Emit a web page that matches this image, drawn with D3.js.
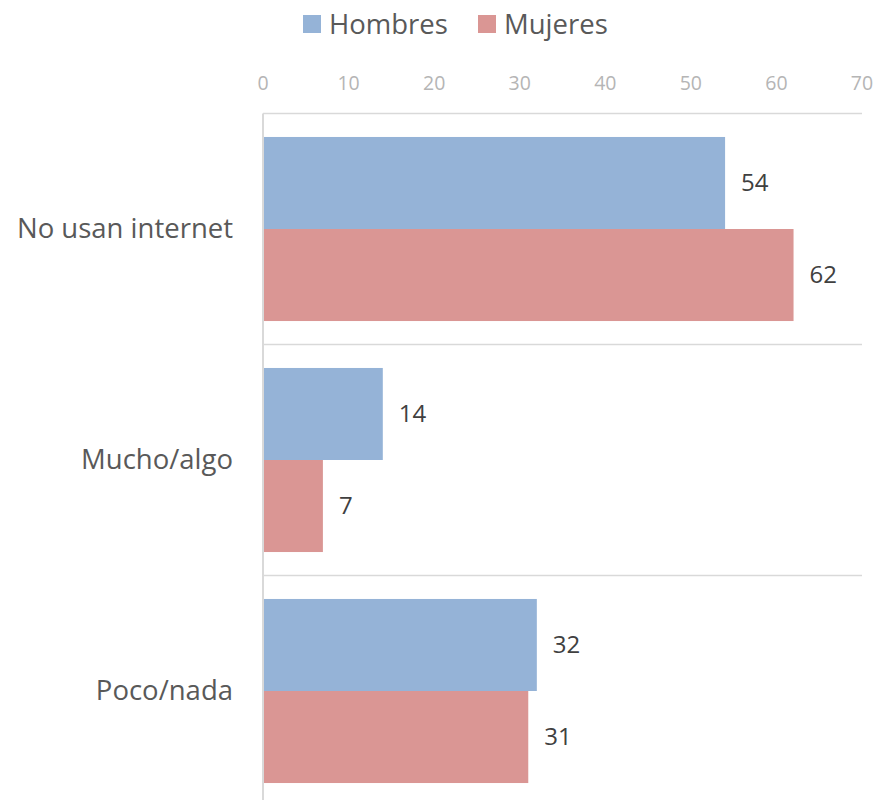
<html lang="es">
<head>
<meta charset="utf-8">
<script src="https://d3js.org/d3.v7.min.js"></script>
<style>
  body { margin: 0; background: #fff; font-family: "Open Sans", sans-serif; }
</style>
</head>
<body>
<div class="main"></div>
<script>
var categories = ["No usan internet", "Mucho/algo", "Poco/nada"]
var series = ["Hombres", "Mujeres"]
var hombres = [54, 14, 32]
var mujeres = [62, 7, 31]
var ticks = [0, 10, 20, 30, 40, 50, 60, 70]
var colors = ["#95b3d7", "#da9694"]

var width = 879, height = 800
var svg = d3.select(".main").append("svg")
  .attr("width", width).attr("height", height)

var x = d3.scaleLinear().domain([0, 70]).range([263, 862])
var y = d3.scaleBand().domain(categories).range([113.5, 806.5])
var inner = d3.scaleBand().domain(series).range([0, y.bandwidth()]).paddingOuter(0.255)

// top axis tick labels
svg.append("g").selectAll("text").data(ticks).enter().append("text")
  .attr("x", d => x(d)).attr("y", 90)
  .attr("text-anchor", "middle")
  .attr("fill", "#b5b5b5").style("font-size", "19.5px")
  .text(d => d)

// gridlines at category boundaries
var bounds = categories.map(c => y(c)).concat([y.range()[1]])
svg.append("g").selectAll("line").data(bounds).enter().append("line")
  .attr("x1", x(0)).attr("x2", x(70))
  .attr("y1", d => d).attr("y2", d => d)
  .attr("stroke", "#d9d9d9").attr("stroke-width", 1.5)

var rows = categories.map((c, i) => ({cat: c, vals: [hombres[i], mujeres[i]]}))

var grp = svg.append("g").selectAll("g").data(rows).enter().append("g")
  .attr("transform", d => "translate(0," + y(d.cat) + ")")

grp.selectAll("rect").data(d => d.vals.map((v, j) => ({s: series[j], v: v, j: j})))
  .enter().append("rect")
  .attr("x", x(0)).attr("y", d => inner(d.s))
  .attr("width", d => x(d.v) - x(0)).attr("height", inner.bandwidth())
  .attr("fill", d => colors[d.j])

grp.selectAll("text.val").data(d => d.vals.map((v, j) => ({s: series[j], v: v})))
  .enter().append("text").attr("class", "val")
  .attr("x", d => x(d.v) + 16)
  .attr("y", d => inner(d.s) + inner.bandwidth() / 2)
  .attr("dy", "0.35em")
  .attr("fill", "#404040").style("font-size", "24px")
  .text(d => d.v)

// category labels
svg.append("g").selectAll("text").data(categories).enter().append("text")
  .attr("x", 233).attr("y", d => y(d) + y.bandwidth() / 2 - 1)
  .attr("dy", "0.35em").attr("text-anchor", "end")
  .attr("fill", "#595959").style("font-size", "27.5px")
  .text(d => d)

// y axis line
svg.append("line")
  .attr("x1", x(0)).attr("x2", x(0)).attr("y1", 113.5).attr("y2", 800)
  .attr("stroke", "#d9d9d9").attr("stroke-width", 2)

// legend
var legX = [303, 478]
var leg = svg.append("g").selectAll("g").data(series).enter().append("g")
  .attr("transform", (d, i) => "translate(" + legX[i] + ",15)")
leg.append("rect").attr("width", 18).attr("height", 18)
  .attr("fill", (d, i) => colors[i])
leg.append("text").attr("x", 26).attr("y", 9).attr("dy", "0.35em")
  .attr("fill", "#595959").style("font-size", "27.5px")
  .text(d => d)
</script>
</body>
</html>
